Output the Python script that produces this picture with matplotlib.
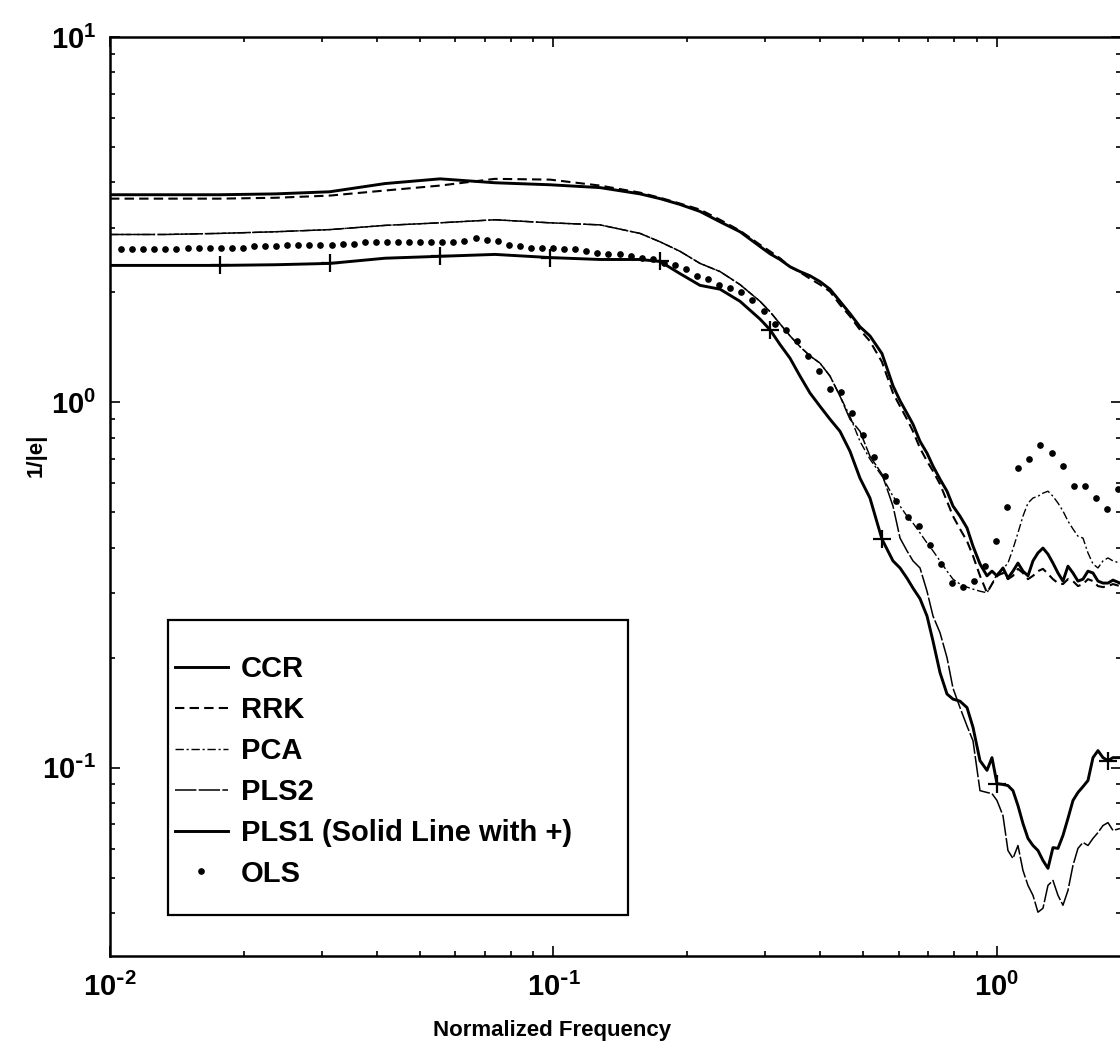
import numpy as np
import matplotlib
matplotlib.use('Agg')
import matplotlib.pyplot as plt
from matplotlib.patches import Rectangle
from matplotlib.ticker import FuncFormatter

plt.rcParams['font.family'] = 'Liberation Sans'
plt.rcParams['font.weight'] = 'bold'
plt.rcParams['mathtext.default'] = 'regular'
plt.rcParams['axes.unicode_minus'] = False

# normalized frequency grid shared by the line series
freq = [0.0100, 0.0133, 0.0177, 0.0236, 0.0313, 0.0417, 0.0555, 0.0738, 0.0982, 0.1273,
        0.1567, 0.1739, 0.1929, 0.2140, 0.2374, 0.2634, 0.2922, 0.3078, 0.3241, 0.3415,
        0.3596, 0.3788, 0.3990, 0.4202, 0.4426, 0.4661, 0.4910, 0.5171, 0.5504, 0.5828,
        0.6045, 0.6268, 0.6466, 0.6706, 0.6954, 0.7174, 0.7440, 0.7715, 0.7958, 0.8253,
        0.8559, 0.8829, 0.9156, 0.9495, 0.9744, 1.0000, 1.0316, 1.0587, 1.0866, 1.1152,
        1.1445, 1.1747, 1.2055, 1.2372, 1.2697, 1.3032, 1.3374, 1.3726, 1.4087, 1.4457,
        1.4838, 1.5228, 1.5629, 1.6040, 1.6462, 1.6894, 1.7338, 1.7795, 1.8263, 1.8937]

ccr = [3.70, 3.70, 3.70, 3.72, 3.77, 3.97, 4.09, 3.99, 3.94, 3.87,
       3.72, 3.61, 3.48, 3.33, 3.12, 2.93, 2.67, 2.55, 2.46, 2.35,
       2.28, 2.22, 2.14, 2.04, 1.89, 1.75, 1.61, 1.52, 1.36, 1.11,
       1.01, 0.933, 0.871, 0.782, 0.726, 0.669, 0.616, 0.571, 0.520, 0.488,
       0.453, 0.404, 0.361, 0.335, 0.345, 0.335, 0.352, 0.330, 0.345, 0.363,
       0.345, 0.335, 0.368, 0.387, 0.399, 0.384, 0.363, 0.341, 0.324, 0.356,
       0.341, 0.324, 0.328, 0.345, 0.341, 0.324, 0.320, 0.320, 0.326, 0.320]

rrk = [3.61, 3.61, 3.61, 3.63, 3.68, 3.80, 3.92, 4.09, 4.07, 3.92,
       3.75, 3.63, 3.50, 3.37, 3.16, 2.95, 2.70, 2.59, 2.48, 2.35,
       2.27, 2.18, 2.10, 2.01, 1.85, 1.72, 1.58, 1.47, 1.29, 1.06,
       0.975, 0.899, 0.833, 0.749, 0.690, 0.648, 0.597, 0.536, 0.488, 0.450,
       0.417, 0.380, 0.335, 0.301, 0.318, 0.335, 0.341, 0.328, 0.335, 0.350,
       0.341, 0.328, 0.335, 0.345, 0.350, 0.339, 0.328, 0.320, 0.318, 0.328,
       0.324, 0.314, 0.318, 0.328, 0.324, 0.314, 0.312, 0.314, 0.318, 0.314]

pca = [2.88, 2.88, 2.90, 2.93, 2.97, 3.05, 3.10, 3.16, 3.10, 3.06,
       2.90, 2.75, 2.59, 2.40, 2.28, 2.10, 1.89, 1.77, 1.64, 1.52,
       1.42, 1.34, 1.28, 1.18, 1.04, 0.916, 0.782, 0.699, 0.628, 0.553,
       0.520, 0.488, 0.467, 0.439, 0.412, 0.392, 0.368, 0.345, 0.328, 0.318,
       0.312, 0.308, 0.304, 0.301, 0.318, 0.339, 0.350, 0.363, 0.397, 0.439,
       0.488, 0.530, 0.547, 0.553, 0.564, 0.571, 0.553, 0.530, 0.504, 0.473,
       0.450, 0.430, 0.425, 0.387, 0.361, 0.352, 0.368, 0.375, 0.368, 0.363]

pls2 = [2.88, 2.88, 2.90, 2.93, 2.97, 3.05, 3.10, 3.16, 3.10, 3.06,
        2.90, 2.75, 2.59, 2.40, 2.28, 2.10, 1.89, 1.77, 1.64, 1.52,
        1.42, 1.34, 1.28, 1.18, 1.04, 0.899, 0.833, 0.712, 0.636, 0.520,
        0.425, 0.392, 0.368, 0.352, 0.304, 0.260, 0.234, 0.200, 0.165, 0.146,
        0.130, 0.1185, 0.0865, 0.0855, 0.0849, 0.0813, 0.0739, 0.0593, 0.0564, 0.0612,
        0.0523, 0.0476, 0.0447, 0.0402, 0.0412, 0.0476, 0.0491, 0.0447, 0.0420, 0.0461,
        0.0540, 0.0601, 0.0624, 0.0612, 0.0640, 0.0664, 0.0694, 0.0707, 0.0673, 0.0681]

pls1 = [2.37, 2.37, 2.37, 2.38, 2.40, 2.48, 2.51, 2.54, 2.49, 2.46,
        2.46, 2.43, 2.25, 2.09, 2.04, 1.89, 1.69, 1.58, 1.44, 1.32,
        1.18, 1.06, 0.975, 0.899, 0.833, 0.735, 0.620, 0.547, 0.422, 0.368,
        0.352, 0.330, 0.310, 0.290, 0.260, 0.222, 0.182, 0.159, 0.154, 0.152,
        0.146, 0.129, 0.1045, 0.0983, 0.1065, 0.0904, 0.0899, 0.0893, 0.0865, 0.0787,
        0.0703, 0.0640, 0.0612, 0.0593, 0.0557, 0.0530, 0.0604, 0.0601, 0.0652, 0.0726,
        0.0813, 0.0855, 0.0887, 0.0922, 0.1065, 0.1113, 0.1065, 0.1045, 0.1065, 0.1065]
pls1_marks = [2, 4, 6, 8, 11, 17, 28, 45, 67]   # points carrying a '+'

# OLS is drawn as dots on its own (log spaced) frequency grid
ols = [2.62, 2.62, 2.62, 2.62, 2.62, 2.62, 2.64, 2.64, 2.64, 2.65,
       2.65, 2.65, 2.67, 2.67, 2.67, 2.69, 2.69, 2.69, 2.70, 2.70,
       2.72, 2.72, 2.74, 2.74, 2.75, 2.75, 2.75, 2.75, 2.74, 2.74,
       2.75, 2.77, 2.81, 2.79, 2.77, 2.70, 2.67, 2.64, 2.65, 2.64,
       2.62, 2.62, 2.59, 2.57, 2.55, 2.54, 2.52, 2.49, 2.46, 2.41,
       2.37, 2.31, 2.22, 2.18, 2.10, 2.06, 2.01, 1.90, 1.78, 1.64,
       1.58, 1.47, 1.34, 1.215, 1.09, 1.07, 0.933, 0.813, 0.707, 0.628,
       0.536, 0.485, 0.458, 0.407, 0.361, 0.320, 0.312, 0.324, 0.356, 0.417,
       0.517, 0.660, 0.699, 0.763, 0.726, 0.669, 0.590, 0.590, 0.547, 0.510,
       0.579]
ols_freq = np.geomspace(0.01059, 1.875, len(ols))

freq = np.array(freq)
pls1 = np.array(pls1)


def pow10_label(v, pos):
    # 10^n with a plain hyphen in the exponent, as in the original
    e = int(round(np.log10(v)))
    s = str(e).replace('-', r'\text{-}')
    return r'$\mathdefault{10^{%s}}$' % s


fig = plt.figure(figsize=(11.2, 10.45), dpi=100)
ax = fig.add_axes([110/1120, 89/1045, 1011/1120, 919/1045])

ax.plot(freq, ccr, color='black', lw=2.1, label='CCR')
ax.plot(freq, rrk, color='black', lw=1.5, dashes=(4.5, 2.5), label='RRK')
ax.plot(freq, pca, color='black', lw=1.0, dashes=(6, 2, 1.5, 2), label='PCA')
ax.plot(freq, pls2, color='black', lw=1.1, dashes=(14, 1.5), label='PLS2')
ax.plot(freq, pls1, color='black', lw=2.1, label='PLS1 (Solid Line with +)')
ax.plot(freq[pls1_marks], pls1[pls1_marks], '+', color='black', ms=13, mew=1.6)
ax.plot(ols_freq, ols, 'o', color='black', ms=3.8, ls='none', label='OLS')

ax.set_xscale('log')
ax.set_yscale('log')
ax.set_xlim(0.01, 1.904)
ax.set_ylim(0.0305, 10)
ax.xaxis.set_major_formatter(FuncFormatter(pow10_label))
ax.yaxis.set_major_formatter(FuncFormatter(pow10_label))

ax.tick_params(which='both', direction='in', top=True, right=True, width=1.2)
ax.tick_params(which='major', length=7, labelsize=21, pad=12)
ax.tick_params(axis='y', which='major', pad=10)
ax.tick_params(which='minor', length=3.5)
for s in ax.spines.values():
    s.set_linewidth(1.8)

ax.set_xlabel('Normalized Frequency', fontsize=16, fontweight='bold')
ax.xaxis.set_label_coords(0.437, -0.07)
ax.set_ylabel('1/|e|', fontsize=16, fontweight='bold')
ax.yaxis.set_label_coords(-0.063, 0.545)

# legend box drawn separately so the padding can match the original
ax.add_patch(Rectangle((0.0574, 0.0446), 0.455, 0.321, transform=ax.transAxes,
                       facecolor='white', edgecolor='black', lw=1.6, zorder=4))
leg = ax.legend(loc='upper left', bbox_to_anchor=(0.0643, 0.327), frameon=False,
                borderpad=0, borderaxespad=0, fontsize=21, handlelength=1.8,
                handletextpad=0.45, labelspacing=0.44, numpoints=1)
leg.set_zorder(5)

fig.savefig('out.png', dpi=100)
